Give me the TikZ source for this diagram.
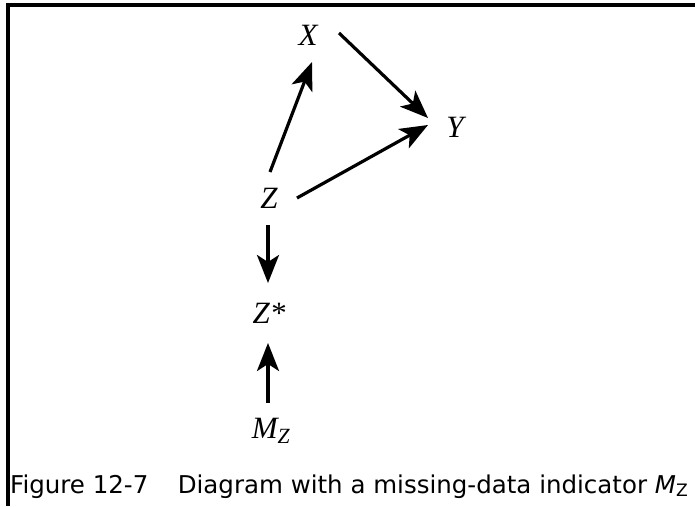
\documentclass[tikz,border=0pt]{standalone}
\usepackage{fontspec}
\newfontfamily\capfont{DejaVu Sans}
\newfontfamily\varfont{Liberation Serif}
\usetikzlibrary{arrows.meta,calc}
\tikzset{
  var/.style={inner sep=0pt, anchor=base, font=\varfont\itshape\fontsize{31}{35}\selectfont},
  arr/.style={line width=3.2pt, -{Stealth[length=28pt,width=22pt,inset=7pt]}},
  frameline/.style={line width=3.5pt},
  captext/.style={inner sep=0pt, anchor=base west, font=\capfont\fontsize{24.5}{28}\selectfont}
}
\begin{document}
\begin{tikzpicture}[x=1pt,y=-1pt]
\useasboundingbox (0,0) rectangle (695,506);
\draw[frameline] (8,506) -- (8,5) -- (695,5);
\node[var] (X)  at (308,45)  {X};
\node[var] (Y)  at (455,137) {Y};
\node[var] (Z)  at (269,208) {Z};
\node[var] (Zs) at (269,323) {Z*};
\node[var] (M)  at (271,438) {M\textsubscript{Z}};
\draw[arr] ($(Z.base)+(1,-36)$) -- ($(X.base)+(4,17)$);
\draw[arr] ($(X.base)+(31,-12)$) -- ($(Y.base)+(-27,-19)$);
\draw[arr] ($(Z.base)+(28,-10)$) -- ($(Y.base)+(-27,-12)$);
\draw[arr] ($(Z.base)+(-1,17)$) -- ($(Zs.base)+(-1,-40)$);
\draw[arr] ($(M.base)+(-3,-35)$) -- ($(Zs.base)+(-1,20)$);
\node[captext] (C) at (10,493) {Figure 12-7\hspace{1.2em}Diagram with a missing-data indicator {\itshape M}\textsubscript{Z}};
\end{tikzpicture}
\end{document}
